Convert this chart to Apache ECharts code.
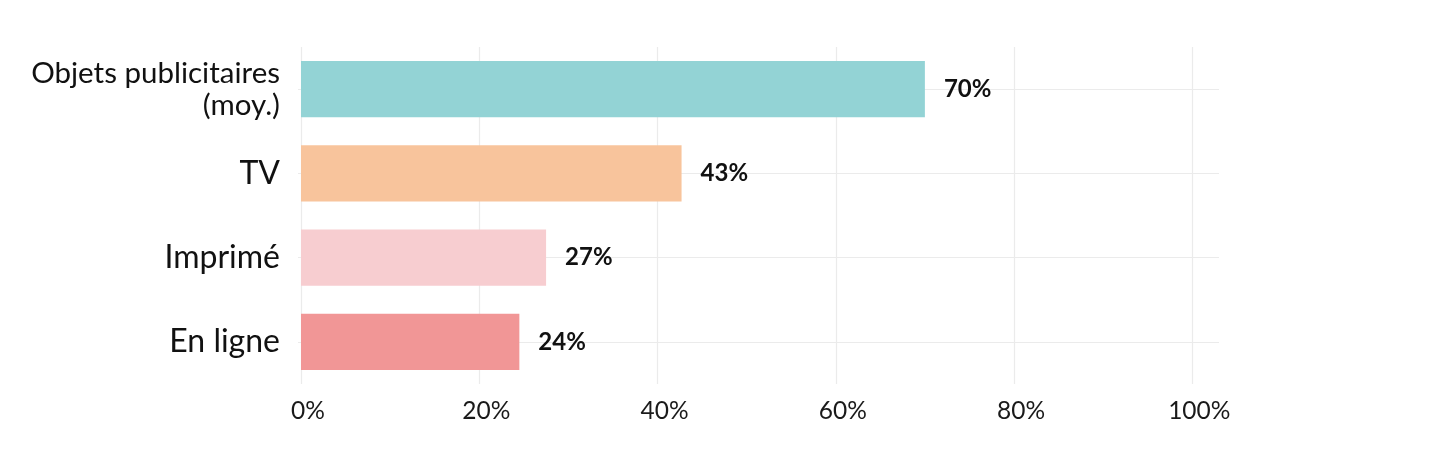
<!DOCTYPE html>
<html>
<head>
<meta charset="utf-8">
<script src="https://cdn.jsdelivr.net/npm/echarts@6/dist/echarts.min.js"></script>
<style>
  html, body { margin: 0; padding: 0; background: #fff; }
  #chart { width: 1440px; height: 465px; }
</style>
</head>
<body>
<div id="chart"></div>
<script>
// data
const categories = ['Objets publicitaires\n(moy.)', 'TV', 'Imprimé', 'En ligne'];
const values = [70, 42.7, 27.5, 24.5];
const valueLabels = ['70%', '43%', '27%', '24%'];
const barColors = ['#93D3D5', '#F8C49C', '#F7CDD0', '#F19696'];
const xTicks = [0, 20, 40, 60, 80, 100];

const gridColor = '#EBEBEB';

const chart = echarts.init(document.getElementById('chart'));
chart.setOption({
  animation: false,
  backgroundColor: '#fff',
  grid: { left: 301, right: 221, top: 47, bottom: 81, containLabel: false },
  xAxis: {
    type: 'value',
    min: 0,
    max: 103,
    interval: 20,
    axisLine: { show: false },
    axisTick: { show: false },
    splitLine: { show: true, showMaxLine: false, lineStyle: { color: gridColor, width: 1.2 } },
    axisLabel: {
      showMaxLabel: false,
      margin: 15,
      padding: [0, 0, 0, 14],
      fontFamily: 'Lato',
      fontSize: 24.5,
      color: '#1a1a1a',
      formatter: v => xTicks.indexOf(v) >= 0 ? v + '%' : ''
    }
  },
  yAxis: {
    type: 'category',
    inverse: true,
    data: categories,
    axisLine: { show: false },
    axisTick: { show: true, alignWithLabel: true, length: 3, lineStyle: { color: gridColor } },
    splitLine: { show: false },
    axisLabel: {
      margin: 21,
      align: 'right',
      // the two-line label is set a bit smaller
      formatter: v => v.indexOf('\n') >= 0 ? '{s|' + v.replace('\n', '}\n{s|') + '}' : '{b|' + v + '}',
      rich: {
        s: { fontFamily: 'Lato', fontSize: 29.5, lineHeight: 32, color: '#111', align: 'right' },
        b: { fontFamily: 'Lato', fontSize: 32, lineHeight: 34, color: '#111', align: 'right' }
      }
    }
  },
  series: [{
    type: 'bar',
    data: values.map((v, i) => ({ value: v, itemStyle: { color: barColors[i] } })),
    barWidth: '67%',
    z: 3,
    label: {
      show: true,
      position: 'right',
      distance: 19,
      fontFamily: 'Lato',
      fontWeight: 'bold',
      fontSize: 24,
      color: '#111',
      formatter: p => valueLabels[p.dataIndex]
    },
    markLine: {
      silent: true,
      z: 1,
      symbol: 'none',
      label: { show: false },
      lineStyle: { color: gridColor, width: 1.2, type: 'solid' },
      data: categories.map(c => [{ coord: [0, c] }, { coord: [103, c] }])
    }
  }]
});
</script>
</body>
</html>
